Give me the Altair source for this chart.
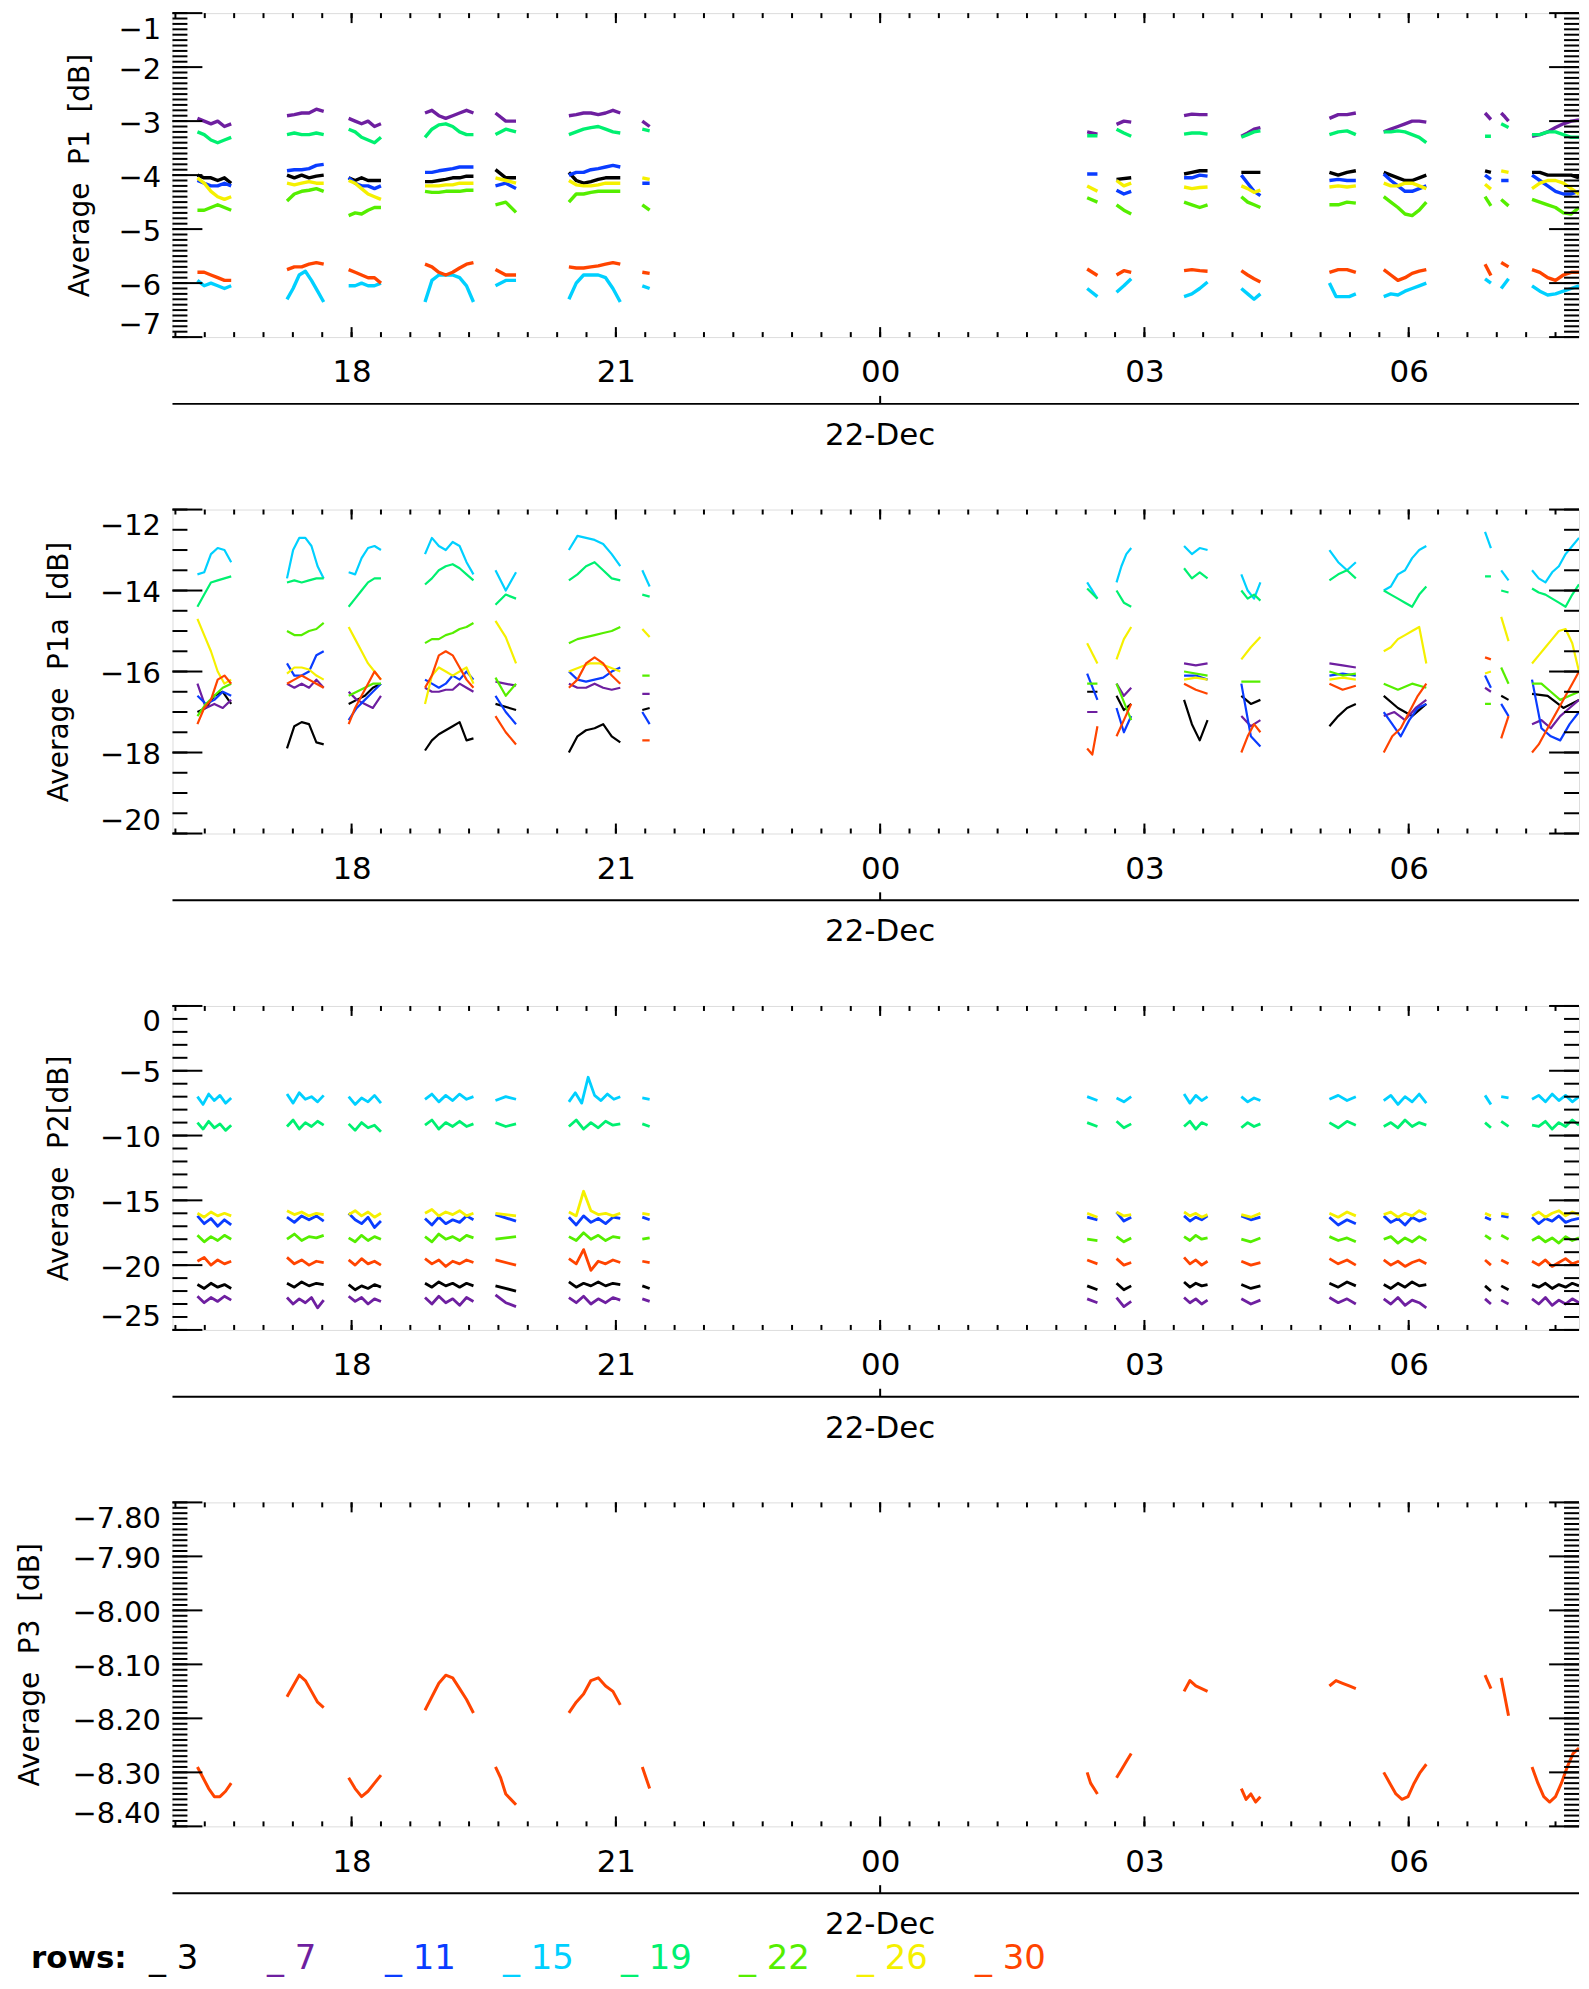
import altair as alt
import pandas as pd
import numpy as np

# ---------------- data ----------------
ROWS = [3, 7, 11, 15, 19, 22, 26, 30]
ROW_COLORS = ["#000000", "#6e1fa0", "#0a3cff", "#00d0ff", "#00f070", "#55ee00", "#f5f000", "#ff4400"]

SEGMENTS = {
    "A": ("2015-12-21 16:15", "2015-12-21 16:38"),
    "B": ("2015-12-21 17:16", "2015-12-21 17:41"),
    "C": ("2015-12-21 17:58", "2015-12-21 18:20"),
    "D": ("2015-12-21 18:50", "2015-12-21 19:23"),
    "E": ("2015-12-21 19:38", "2015-12-21 19:52"),
    "F": ("2015-12-21 20:28", "2015-12-21 21:03"),
    "G": ("2015-12-21 21:18", "2015-12-21 21:23"),
    "H": ("2015-12-22 02:21", "2015-12-22 02:28"),
    "I": ("2015-12-22 02:41", "2015-12-22 02:51"),
    "J": ("2015-12-22 03:27", "2015-12-22 03:43"),
    "K": ("2015-12-22 04:06", "2015-12-22 04:19"),
    "L": ("2015-12-22 05:06", "2015-12-22 05:24"),
    "M": ("2015-12-22 05:43", "2015-12-22 06:12"),
    "N1": ("2015-12-22 06:52", "2015-12-22 06:56"),
    "N2": ("2015-12-22 07:03", "2015-12-22 07:08"),
    "O": ("2015-12-22 07:24", "2015-12-22 07:56"),
}

P1 = {
    7: {"A": [-2.95, -3.0, -3.05, -3.0, -3.1, -3.05], "B": [-2.9, -2.88, -2.85, -2.85, -2.78, -2.82],
        "C": [-2.95, -3.0, -3.05, -3.0, -3.1, -3.05], "D": [-2.85, -2.8, -2.9, -2.95, -2.9, -2.85, -2.8, -2.85],
        "E": [-2.85, -3.0, -3.0], "F": [-2.9, -2.88, -2.85, -2.85, -2.88, -2.85, -2.8, -2.85],
        "G": [-3.0, -3.1], "H": [-3.2, -3.24], "I": [-3.06, -3.0, -3.02], "J": [-2.9, -2.87, -2.88, -2.88],
        "K": [-3.28, -3.22, -3.15, -3.12], "L": [-2.95, -2.88, -2.88, -2.85],
        "M": [-3.2, -3.15, -3.1, -3.05, -3.0, -3.0, -3.02], "N1": [-2.85, -2.97], "N2": [-2.85, -2.92, -3.0],
        "O": [-3.28, -3.25, -3.2, -3.12, -3.05, -3.0, -2.98]},
    19: {"A": [-3.2, -3.25, -3.35, -3.4, -3.35, -3.3], "B": [-3.25, -3.22, -3.25, -3.25, -3.22, -3.25],
         "C": [-3.15, -3.2, -3.3, -3.35, -3.4, -3.3], "D": [-3.3, -3.15, -3.07, -3.05, -3.1, -3.2, -3.25, -3.25],
         "E": [-3.25, -3.15, -3.2], "F": [-3.25, -3.2, -3.15, -3.12, -3.1, -3.15, -3.2, -3.22],
         "G": [-3.15, -3.18], "H": [-3.27, -3.27], "I": [-3.15, -3.22, -3.28], "J": [-3.24, -3.22, -3.22, -3.24],
         "K": [-3.3, -3.25, -3.2, -3.18], "L": [-3.25, -3.2, -3.18, -3.25],
         "M": [-3.2, -3.2, -3.18, -3.2, -3.25, -3.3, -3.4], "N1": [-3.28, -3.28], "N2": [-3.05, -3.12],
         "O": [-3.25, -3.25, -3.2, -3.2, -3.25, -3.3, -3.3]},
    3: {"A": [-4.0, -4.05, -4.05, -4.1, -4.05, -4.15], "B": [-4.0, -4.05, -4.0, -4.05, -4.02, -4.0],
        "C": [-4.05, -4.1, -4.05, -4.1, -4.1, -4.1], "D": [-4.12, -4.12, -4.1, -4.08, -4.05, -4.05, -4.02, -4.02],
        "E": [-3.9, -4.05, -4.05], "F": [-3.95, -4.1, -4.15, -4.12, -4.08, -4.05, -4.05, -4.05],
        "I": [-4.08, -4.05], "J": [-3.98, -3.95, -3.92, -3.92], "K": [-3.95, -3.95],
        "L": [-3.95, -4.0, -3.95, -3.92], "M": [-3.95, -4.0, -4.05, -4.1, -4.1, -4.05, -4.0],
        "N1": [-3.92, -3.95], "O": [-3.95, -3.95, -4.0, -4.0, -4.0, -4.0, -4.05]},
    11: {"A": [-4.1, -4.15, -4.2, -4.2, -4.15, -4.2], "B": [-3.92, -3.9, -3.9, -3.88, -3.82, -3.8],
         "C": [-4.05, -4.15, -4.2, -4.2, -4.25, -4.2], "D": [-3.95, -3.95, -3.92, -3.9, -3.88, -3.85, -3.85, -3.85],
         "E": [-4.2, -4.15, -4.25], "F": [-4.0, -3.95, -3.95, -3.9, -3.88, -3.85, -3.82, -3.85],
         "G": [-4.15, -4.15], "H": [-3.98, -3.98], "I": [-4.28, -4.35, -4.3], "J": [-4.05, -4.05, -4.0, -4.02],
         "K": [-4.0, -4.15, -4.3, -4.38], "L": [-4.1, -4.08, -4.1, -4.1],
         "M": [-3.98, -4.1, -4.2, -4.3, -4.3, -4.25, -4.2], "N1": [-4.0, -4.08], "N2": [-4.1, -4.1],
         "O": [-4.0, -4.1, -4.2, -4.3, -4.35, -4.35, -4.3]},
    26: {"A": [-4.05, -4.15, -4.3, -4.4, -4.45, -4.4], "B": [-4.15, -4.18, -4.15, -4.12, -4.15, -4.15],
         "C": [-4.1, -4.15, -4.25, -4.35, -4.4, -4.45], "D": [-4.2, -4.2, -4.2, -4.18, -4.18, -4.15, -4.15, -4.15],
         "E": [-4.05, -4.1, -4.15], "F": [-4.1, -4.18, -4.2, -4.2, -4.18, -4.15, -4.15, -4.15],
         "G": [-4.05, -4.08], "H": [-4.2, -4.3], "I": [-4.1, -4.2, -4.15], "J": [-4.22, -4.25, -4.23, -4.22],
         "K": [-4.2, -4.25, -4.32, -4.28], "L": [-4.22, -4.2, -4.22, -4.2],
         "M": [-4.15, -4.2, -4.2, -4.15, -4.15, -4.2, -4.25], "N1": [-4.17, -4.26], "N2": [-3.92, -3.95],
         "O": [-4.25, -4.15, -4.1, -4.1, -4.15, -4.25, -4.35]},
    22: {"A": [-4.65, -4.65, -4.6, -4.55, -4.6, -4.65], "B": [-4.48, -4.35, -4.3, -4.28, -4.25, -4.3],
         "C": [-4.75, -4.7, -4.72, -4.65, -4.6, -4.6], "D": [-4.3, -4.32, -4.32, -4.3, -4.3, -4.3, -4.28, -4.28],
         "E": [-4.55, -4.5, -4.69], "F": [-4.5, -4.35, -4.35, -4.32, -4.3, -4.3, -4.3, -4.3],
         "G": [-4.55, -4.65], "H": [-4.42, -4.5], "I": [-4.55, -4.65, -4.72], "J": [-4.5, -4.55, -4.6, -4.55],
         "K": [-4.4, -4.5, -4.55, -4.6], "L": [-4.55, -4.55, -4.5, -4.52],
         "M": [-4.4, -4.5, -4.6, -4.72, -4.75, -4.65, -4.5], "N1": [-4.4, -4.57], "N2": [-4.45, -4.57],
         "O": [-4.45, -4.5, -4.55, -4.6, -4.7, -4.72, -4.6]},
    30: {"A": [-5.8, -5.8, -5.85, -5.9, -5.95, -5.95], "B": [-5.75, -5.7, -5.7, -5.65, -5.62, -5.65],
         "C": [-5.75, -5.8, -5.85, -5.9, -5.9, -6.0], "D": [-5.65, -5.7, -5.8, -5.85, -5.8, -5.72, -5.65, -5.62],
         "E": [-5.75, -5.85, -5.85], "F": [-5.7, -5.72, -5.72, -5.7, -5.68, -5.65, -5.62, -5.65],
         "G": [-5.8, -5.82], "H": [-5.74, -5.86], "I": [-5.85, -5.77, -5.8], "J": [-5.77, -5.75, -5.77, -5.78],
         "K": [-5.77, -5.85, -5.92, -5.98], "L": [-5.8, -5.75, -5.75, -5.8],
         "M": [-5.75, -5.85, -5.95, -5.9, -5.82, -5.78, -5.75], "N1": [-5.65, -5.86], "N2": [-5.62, -5.7],
         "O": [-5.75, -5.8, -5.9, -5.95, -5.85, -5.8, -5.8]},
    15: {"A": [-5.95, -6.05, -6.0, -6.05, -6.1, -6.05], "B": [-6.3, -6.1, -5.85, -5.78, -5.95, -6.15, -6.35],
         "C": [-6.05, -6.05, -6.0, -6.05, -6.05, -6.0], "D": [-6.35, -5.95, -5.85, -5.85, -5.85, -5.9, -6.05, -6.35],
         "E": [-6.05, -5.95, -5.95], "F": [-6.3, -6.0, -5.85, -5.85, -5.85, -5.9, -6.1, -6.35],
         "G": [-6.05, -6.1], "H": [-6.1, -6.25], "I": [-6.17, -6.05, -5.92], "J": [-6.25, -6.2, -6.1, -5.98],
         "K": [-6.1, -6.2, -6.3, -6.2], "L": [-6.0, -6.25, -6.25, -6.25, -6.2],
         "M": [-6.25, -6.2, -6.22, -6.15, -6.1, -6.05, -6.0], "N1": [-5.92, -6.0], "N2": [-6.1, -5.92],
         "O": [-6.05, -6.15, -6.22, -6.2, -6.15, -6.1, -6.05]},
}

P1A = {
    15: {"A": [-13.6, -13.55, -13.1, -12.95, -13.0, -13.3], "B": [-13.7, -13.0, -12.7, -12.7, -12.9, -13.4, -13.7],
         "C": [-13.55, -13.6, -13.2, -12.95, -12.9, -13.0], "D": [-13.1, -12.7, -12.9, -13.0, -12.8, -12.9, -13.3, -13.6],
         "E": [-13.5, -14.0, -13.55], "F": [-13.0, -12.65, -12.7, -12.75, -12.85, -13.1, -13.4],
         "G": [-13.5, -13.9], "H": [-13.8, -14.2], "I": [-13.8, -13.4, -13.1, -12.95], "J": [-12.9, -13.1, -12.95, -13.0],
         "K": [-13.6, -14.0, -14.2, -13.8], "L": [-13.0, -13.3, -13.5, -13.3],
         "M": [-14.0, -13.9, -13.6, -13.5, -13.2, -13.0, -12.9], "N1": [-12.55, -12.95], "N2": [-13.5, -13.75],
         "O": [-13.5, -13.7, -13.8, -13.55, -13.4, -13.1, -12.9, -12.7]},
    19: {"A": [-14.4, -14.1, -13.8, -13.75, -13.7, -13.65], "B": [-13.8, -13.75, -13.8, -13.75, -13.7, -13.7],
         "C": [-14.4, -14.2, -14.0, -13.8, -13.7, -13.7], "D": [-13.85, -13.7, -13.5, -13.4, -13.35, -13.45, -13.6, -13.75],
         "E": [-14.35, -14.1, -14.2], "F": [-13.75, -13.6, -13.4, -13.3, -13.5, -13.7, -13.75],
         "G": [-14.1, -14.15], "H": [-13.95, -14.2], "I": [-14.0, -14.3, -14.4], "J": [-13.45, -13.7, -13.55, -13.7],
         "K": [-14.0, -14.2, -14.1, -14.25], "L": [-13.75, -13.6, -13.5, -13.7],
         "M": [-14.0, -14.1, -14.2, -14.3, -14.4, -14.1, -13.9], "N1": [-13.65, -13.65], "N2": [-14.0, -14.05],
         "O": [-13.95, -14.05, -14.1, -14.2, -14.3, -14.4, -14.1, -13.85]},
    26: {"A": [-14.7, -15.1, -15.5, -16.0, -16.3, -16.2], "B": [-16.05, -15.9, -15.9, -15.95, -16.1, -16.2],
         "C": [-14.9, -15.2, -15.5, -15.8, -16.0, -16.2], "D": [-16.8, -16.1, -15.9, -16.0, -16.1, -16.0, -15.9, -16.3],
         "E": [-14.75, -15.15, -15.8], "F": [-16.0, -15.9, -15.8, -15.8, -15.9, -16.0],
         "G": [-14.95, -15.15], "H": [-15.3, -15.8], "I": [-15.7, -15.2, -14.9], "J": [-16.2, -16.15, -16.2],
         "K": [-15.7, -15.4, -15.15], "L": [-16.2, -16.15, -16.2],
         "M": [-15.5, -15.4, -15.2, -15.1, -15.0, -14.9, -15.8], "N1": [-16.05, -16.0], "N2": [-14.65, -15.25],
         "O": [-15.8, -15.6, -15.4, -15.2, -15.0, -14.95, -15.3, -16.0]},
    22: {"A": [-17.1, -16.8, -16.6, -16.4, -16.3], "B": [-15.0, -15.1, -15.1, -15.0, -14.95, -14.8],
         "C": [-16.6, -16.5, -16.4, -16.3, -16.3], "D": [-15.3, -15.2, -15.2, -15.1, -15.05, -14.95, -14.9, -14.8],
         "E": [-16.15, -16.6, -16.3], "F": [-15.3, -15.2, -15.15, -15.1, -15.05, -15.0, -14.9],
         "G": [-16.1, -16.1], "H": [-16.3, -16.3], "I": [-16.3, -17.2], "J": [-16.0, -16.1],
         "K": [-16.25, -16.25], "L": [-16.0, -16.1, -16.05], "M": [-16.3, -16.45, -16.3, -16.4],
         "N1": [-16.8, -16.8], "N2": [-15.9, -16.3], "O": [-16.3, -16.3, -16.5, -16.7, -16.6, -16.5]},
    11: {"A": [-16.6, -16.8, -16.7, -16.5, -16.6], "B": [-15.8, -16.1, -16.1, -16.0, -15.6, -15.5],
         "C": [-17.2, -16.9, -16.7, -16.5, -16.3], "D": [-16.2, -16.3, -16.4, -16.3, -16.1, -16.2, -16.0, -16.2],
         "E": [-16.6, -17.0, -17.3], "F": [-16.0, -16.2, -16.25, -16.2, -16.15, -16.0, -15.9],
         "G": [-17.0, -17.3], "H": [-16.05, -16.7], "I": [-16.9, -17.5, -17.1], "J": [-16.1, -16.1, -16.2],
         "K": [-16.3, -17.6, -17.85], "L": [-16.1, -16.05, -16.1], "M": [-17.0, -17.3, -17.6, -17.2, -16.9, -16.8],
         "N1": [-16.1, -16.4], "N2": [-16.8, -17.1], "O": [-16.2, -17.4, -17.6, -17.7, -17.3, -17.0]},
    7: {"A": [-16.3, -16.9, -16.8, -16.9, -16.7], "B": [-16.3, -16.4, -16.3, -16.4, -16.2, -16.4],
        "C": [-16.5, -16.7, -16.8, -16.9, -16.6], "D": [-16.4, -16.5, -16.5, -16.45, -16.45, -16.3, -16.4, -16.5],
        "E": [-16.25, -16.35], "F": [-16.3, -16.4, -16.4, -16.3, -16.4, -16.45, -16.4],
        "G": [-16.55, -16.55], "H": [-17.0, -17.0], "I": [-16.3, -16.6, -16.4], "J": [-15.8, -15.85, -15.8],
        "K": [-17.1, -17.35, -17.2], "L": [-15.8, -15.85, -15.9], "M": [-17.1, -17.0, -17.2, -16.9, -16.7],
        "N1": [-16.4, -16.5], "O": [-17.3, -17.2, -17.4, -17.1, -16.9, -16.7]},
    3: {"A": [-17.0, -16.9, -16.6, -16.5, -16.8], "B": [-17.9, -17.35, -17.25, -17.3, -17.75, -17.8],
        "C": [-16.8, -16.7, -16.6, -16.4, -16.3], "D": [-17.95, -17.7, -17.55, -17.45, -17.35, -17.25, -17.7, -17.65],
        "E": [-16.8, -16.95], "F": [-18.0, -17.6, -17.45, -17.4, -17.3, -17.6, -17.75],
        "G": [-16.95, -16.9], "H": [-16.5, -16.5], "I": [-16.6, -16.95, -16.8], "J": [-16.7, -17.3, -17.7, -17.2],
        "K": [-16.6, -16.8, -16.7], "L": [-17.35, -17.1, -16.9, -16.8], "M": [-16.6, -16.9, -17.1, -16.8],
        "N2": [-16.6, -16.7], "O": [-16.55, -16.6, -16.9, -16.7]},
    30: {"A": [-17.3, -16.9, -16.7, -16.2, -16.1, -16.3], "B": [-16.3, -16.2, -16.1, -16.2, -16.3, -16.4],
         "C": [-17.3, -16.9, -16.6, -16.3, -16.0, -16.2], "D": [-16.4, -16.1, -15.6, -15.5, -15.6, -15.9, -16.2, -16.4],
         "E": [-17.1, -17.5, -17.8], "F": [-16.4, -16.2, -15.8, -15.65, -15.8, -16.1, -16.3],
         "G": [-17.7, -17.7], "H": [-17.9, -18.05, -17.35], "I": [-17.6, -17.2, -16.8], "J": [-16.3, -16.45, -16.55],
         "K": [-18.0, -17.6, -17.3, -17.5], "L": [-16.3, -16.45, -16.35],
         "M": [-18.0, -17.6, -17.4, -17.0, -16.6, -16.3], "N1": [-15.65, -15.7], "N2": [-17.65, -17.1],
         "O": [-18.0, -17.8, -17.5, -17.2, -16.9, -16.6, -16.3, -16.0]},
}

P2 = {
    15: {"A": [-7.0, -7.6, -6.8, -7.3, -6.9, -7.5, -7.1], "B": [-6.8, -7.5, -6.7, -7.2, -7.0, -7.4, -6.9],
         "C": [-7.0, -7.6, -7.1, -7.4, -6.9, -7.5], "D": [-7.2, -6.8, -7.4, -6.9, -7.3, -6.8, -7.2, -7.0],
         "E": [-7.3, -7.0, -7.2], "F": [-7.4, -6.7, -7.5, -5.5, -6.9, -7.3, -6.8, -7.2, -7.0],
         "G": [-7.1, -7.2], "H": [-7.0, -7.3], "I": [-7.1, -7.4, -7.0], "J": [-6.8, -7.5, -6.9, -7.3, -7.0],
         "K": [-7.0, -7.4, -7.1, -7.3], "L": [-7.2, -6.9, -7.3, -7.0],
         "M": [-7.3, -6.9, -7.6, -7.0, -7.4, -6.8, -7.5], "N1": [-6.9, -7.6], "N2": [-7.0, -7.1],
         "O": [-7.2, -6.9, -7.4, -6.8, -7.3, -6.9, -7.4, -7.0]},
    19: {"A": [-9.0, -9.5, -8.9, -9.4, -9.1, -9.6, -9.2], "B": [-9.3, -8.8, -9.5, -9.0, -9.3, -8.9, -9.2],
         "C": [-9.1, -9.6, -9.0, -9.4, -9.2, -9.7], "D": [-9.2, -8.8, -9.5, -9.0, -9.3, -8.9, -9.3, -9.1],
         "E": [-9.0, -9.3, -9.1], "F": [-9.3, -8.8, -9.5, -9.0, -9.4, -8.9, -9.2, -9.1],
         "G": [-9.1, -9.3], "H": [-9.0, -9.3], "I": [-8.9, -9.4, -9.1], "J": [-9.3, -8.9, -9.5, -9.0, -9.2],
         "K": [-9.4, -9.0, -9.3, -9.1], "L": [-9.0, -9.4, -8.9, -9.2],
         "M": [-9.3, -9.0, -9.4, -8.8, -9.3, -9.0, -9.2], "N1": [-9.0, -9.4], "N2": [-8.9, -9.3],
         "O": [-9.2, -9.3, -8.9, -9.5, -9.0, -9.3, -8.8, -9.2]},
    26: {"A": [-16.0, -16.3, -15.9, -16.2, -16.0, -16.2], "B": [-15.8, -16.1, -15.9, -16.2, -16.0, -16.1],
         "C": [-16.1, -15.8, -16.2, -15.9, -16.3, -16.0], "D": [-16.0, -15.7, -16.2, -15.9, -16.1, -15.8, -16.2, -16.0],
         "E": [-16.0, -16.2], "F": [-15.9, -16.2, -14.3, -15.8, -16.1, -16.0, -16.2, -16.0],
         "G": [-16.0, -16.1], "H": [-16.0, -16.3], "I": [-15.9, -16.2, -16.1], "J": [-15.9, -16.2, -16.0, -16.3, -16.1],
         "K": [-16.1, -16.3, -16.0], "L": [-16.0, -16.3, -15.9, -16.2],
         "M": [-16.1, -15.9, -16.3, -16.0, -16.2, -15.8, -16.1], "N1": [-16.0, -16.2], "N2": [-16.0, -16.1],
         "O": [-16.2, -15.9, -16.3, -16.0, -15.8, -16.2, -15.9, -16.1]},
    11: {"A": [-16.2, -16.8, -16.4, -17.0, -16.5, -16.9], "B": [-16.3, -16.7, -16.2, -16.5, -16.2, -16.6],
         "C": [-16.0, -16.5, -16.8, -16.3, -17.1, -16.6], "D": [-16.4, -16.9, -16.3, -16.8, -16.5, -16.7, -16.2, -16.5],
         "E": [-16.1, -16.6], "F": [-16.3, -16.9, -16.2, -16.7, -16.4, -16.8, -16.3, -16.4],
         "G": [-16.3, -16.5], "H": [-16.3, -16.5], "I": [-15.9, -16.6, -16.3], "J": [-16.2, -16.6, -16.3, -16.5, -16.2],
         "K": [-16.2, -16.5, -16.3], "L": [-16.3, -16.9, -16.5, -16.8],
         "M": [-16.2, -16.7, -16.4, -16.9, -16.3, -16.6, -16.4], "N1": [-16.3, -16.5], "N2": [-16.2, -16.3],
         "O": [-16.3, -16.8, -16.4, -16.6, -16.2, -16.7, -16.5, -16.4]},
    22: {"A": [-17.7, -18.2, -17.8, -18.1, -17.7, -18.0], "B": [-18.0, -17.6, -18.1, -17.8, -17.9, -17.7],
         "C": [-17.9, -18.2, -17.7, -18.1, -17.8, -18.0], "D": [-17.8, -18.2, -17.6, -18.0, -17.8, -18.1, -17.7, -17.9],
         "E": [-18.0, -17.8], "F": [-17.8, -18.1, -17.5, -18.0, -17.7, -18.1, -17.8, -17.9],
         "G": [-18.0, -17.9], "H": [-18.0, -18.1], "I": [-17.8, -18.2, -17.9], "J": [-17.8, -18.1, -17.7, -18.0, -17.9],
         "K": [-18.0, -18.2, -17.9], "L": [-17.8, -18.1, -17.9, -18.2],
         "M": [-18.0, -17.8, -18.3, -17.9, -18.2, -17.8, -18.1], "N1": [-17.7, -18.0], "N2": [-17.7, -18.0],
         "O": [-18.1, -17.8, -18.2, -17.9, -18.3, -17.8, -18.1, -17.9]},
    30: {"A": [-19.7, -19.4, -20.0, -19.6, -19.9, -19.7], "B": [-19.4, -19.9, -19.6, -20.0, -19.7, -19.8],
         "C": [-19.6, -20.0, -19.5, -19.9, -19.7, -20.0], "D": [-19.5, -19.9, -19.6, -20.1, -19.7, -19.9, -19.6, -19.8],
         "E": [-19.6, -20.0], "F": [-19.5, -19.9, -18.8, -20.4, -19.7, -19.9, -19.6, -19.8],
         "G": [-19.7, -19.8], "H": [-19.6, -19.9], "I": [-19.5, -20.0, -19.8], "J": [-19.4, -19.9, -19.6, -20.0, -19.7],
         "K": [-19.7, -20.0, -19.8], "L": [-19.5, -19.9, -19.6, -20.0],
         "M": [-19.6, -20.0, -19.7, -20.1, -19.8, -19.6, -19.9], "N1": [-19.6, -20.0], "N2": [-19.6, -19.9],
         "O": [-19.7, -20.0, -19.6, -20.1, -19.8, -19.5, -19.9, -19.7]},
    3: {"A": [-21.5, -21.8, -21.4, -21.7, -21.5, -21.8], "B": [-21.4, -21.7, -21.3, -21.6, -21.4, -21.5],
        "C": [-21.5, -21.9, -21.6, -21.8, -21.5, -21.7], "D": [-21.4, -21.7, -21.3, -21.6, -21.4, -21.7, -21.4, -21.6],
        "E": [-21.6, -22.0], "F": [-21.3, -21.7, -21.4, -21.6, -21.3, -21.6, -21.4, -21.5],
        "G": [-21.6, -21.8], "H": [-21.6, -21.9], "I": [-21.4, -21.9, -21.6], "J": [-21.3, -21.7, -21.4, -21.6, -21.5],
        "K": [-21.5, -21.8, -21.6], "L": [-21.4, -21.7, -21.3, -21.6],
        "M": [-21.5, -21.8, -21.4, -21.7, -21.3, -21.6, -21.5], "N1": [-21.6, -22.0], "N2": [-21.6, -21.9],
        "O": [-21.5, -21.7, -21.4, -21.8, -21.5, -21.7, -21.4, -21.6]},
    7: {"A": [-22.4, -22.9, -22.5, -22.8, -22.4, -22.7], "B": [-22.5, -23.0, -22.6, -22.9, -22.5, -23.3, -22.7],
        "C": [-22.4, -22.8, -22.5, -23.0, -22.6, -22.8], "D": [-22.5, -23.0, -22.4, -22.9, -22.6, -23.1, -22.5, -22.8],
        "E": [-22.3, -22.9, -23.2], "F": [-22.5, -22.9, -22.4, -23.0, -22.6, -22.9, -22.5, -22.7],
        "G": [-22.6, -22.8], "H": [-22.6, -22.9], "I": [-22.5, -23.2, -22.8], "J": [-22.5, -22.9, -22.6, -23.0, -22.7],
        "K": [-22.6, -23.0, -22.7], "L": [-22.5, -22.9, -22.6, -23.0],
        "M": [-22.6, -23.0, -22.5, -23.1, -22.7, -22.9, -23.3], "N1": [-22.6, -23.0], "N2": [-22.7, -23.0],
        "O": [-22.6, -23.0, -22.5, -23.1, -22.7, -23.0, -22.6, -22.9]},
}

P3 = {
    30: {"A": [-8.29, -8.31, -8.33, -8.345, -8.345, -8.335, -8.32], "B": [-8.16, -8.14, -8.12, -8.13, -8.15, -8.17, -8.18],
         "C": [-8.31, -8.33, -8.345, -8.335, -8.32, -8.305], "D": [-8.185, -8.16, -8.135, -8.12, -8.125, -8.145, -8.165, -8.19],
         "E": [-8.29, -8.31, -8.34, -8.35, -8.36], "F": [-8.19, -8.17, -8.155, -8.13, -8.125, -8.14, -8.15, -8.175],
         "G": [-8.29, -8.31, -8.33], "H": [-8.30, -8.32, -8.33, -8.34], "I": [-8.31, -8.295, -8.28, -8.265],
         "J": [-8.15, -8.13, -8.14, -8.145, -8.15], "K": [-8.33, -8.35, -8.34, -8.355, -8.345],
         "L": [-8.14, -8.13, -8.135, -8.14, -8.145], "M": [-8.30, -8.32, -8.34, -8.35, -8.345, -8.32, -8.30, -8.285],
         "N1": [-8.12, -8.145], "N2": [-8.125, -8.16, -8.195],
         "O": [-8.29, -8.32, -8.345, -8.355, -8.345, -8.32, -8.29, -8.265, -8.255]},
}

X_LABEL_TIMES = ["2015-12-21T18:00:00", "2015-12-21T21:00:00", "2015-12-22T00:00:00",
                 "2015-12-22T03:00:00", "2015-12-22T06:00:00"]
DAY_MARK = ["2015-12-22T00:00:00"]
DAY_LABEL = ["22-Dec"]

LEGEND_TEXT = ["rows:", "_ 3", "_ 7", "_ 11", "_ 15", "_ 19", "_ 22", "_ 26", "_ 30"]
LEGEND_COLORS = ["#000000"] + ROW_COLORS

NB = "\u00a0\u00a0"
PANELS = [
    {"data": P1, "title": "Average" + NB + "P1" + NB + "[dB]", "domain": [-7, -1],
     "major": [-7, -6, -5, -4, -3, -2, -1], "minor_step": 0.1, "fmt": "d", "titleX": -92, "sw": 3.4, "day_y": 99},
    {"data": P1A, "title": "Average" + NB + "P1a" + NB + "[dB]", "domain": [-20, -12],
     "major": [-20, -18, -16, -14, -12], "minor_step": 0.5, "fmt": "d", "titleX": -113, "sw": 2.2, "day_y": 99},
    {"data": P2, "title": "Average" + NB + "P2[dB]", "domain": [-25, 0],
     "major": [-25, -20, -15, -10, -5, 0], "minor_step": 1.0, "fmt": "d", "titleX": -113, "sw": 2.8, "day_y": 99},
    {"data": P3, "title": "Average" + NB + "P3" + NB + "[dB]", "domain": [-8.4, -7.8],
     "major": [-8.4, -8.3, -8.2, -8.1, -8.0, -7.9, -7.8], "minor_step": 0.01, "fmt": ".2f", "titleX": -142,
     "sw": 3.0, "day_y": 99},
]

# ---------------- layout / style ----------------
W, H = 1411, 325
FONT = "DejaVu Sans"
T_START = alt.DateTime(year=2015, month=12, date=21, hours=15, minutes=58)
T_END = alt.DateTime(year=2015, month=12, date=22, hours=7, minutes=56)
XSCALE = alt.Scale(domain=[T_START, T_END])


def to_dt(s):
    ts = pd.Timestamp(s)
    return alt.DateTime(year=ts.year, month=ts.month, date=ts.day, hours=ts.hour, minutes=ts.minute)


def build_frame(panel):
    recs = []
    for row in ROWS:
        segs = panel.get(row, {})
        for s, vals in segs.items():
            t0, t1 = pd.Timestamp(SEGMENTS[s][0]), pd.Timestamp(SEGMENTS[s][1])
            n = len(vals)
            for i, v in enumerate(vals):
                frac = i / (n - 1) if n > 1 else 0.0
                t = (t0 + (t1 - t0) * frac).round("s")
                recs.append({"row": str(row), "seg": s, "t": t.strftime("%Y-%m-%dT%H:%M:%S"), "v": v})
    return pd.DataFrame(recs)


x_major = pd.DataFrame({"t": X_LABEL_TIMES})
x_minor = pd.DataFrame({"t": pd.date_range("2015-12-21 16:00", "2015-12-22 07:40", freq="20min")
                        .strftime("%Y-%m-%dT%H:%M:%S")})
day_df = pd.DataFrame({"t": DAY_MARK, "label": DAY_LABEL})


def make_panel(cfg):
    df = build_frame(cfg["data"])
    yscale = alt.Scale(domain=cfg["domain"], nice=False, zero=False)
    lo, hi = cfg["domain"]
    step = cfg["minor_step"]
    n = int(round((hi - lo) / step))
    ymin_df = pd.DataFrame({"v": [round(lo + i * step, 4) for i in range(n + 1)]})
    ymaj_df = pd.DataFrame({"v": cfg["major"]})

    xaxis = alt.Axis(values=[to_dt(s) for s in X_LABEL_TIMES], format="%H", formatType="time",
                     ticks=False, tickSize=0, domain=False, grid=False, labelFontSize=31,
                     labelPadding=21, title=None, labelFont=FONT, labelColor="black")
    yaxis = alt.Axis(values=cfg["major"], format=cfg["fmt"], ticks=False, tickSize=0, domain=False,
                     grid=False, labelFontSize=29, labelFont=FONT, labelColor="black", labelPadding=12,
                     labelOffset=2, labelFlush=True, labelOverlap=False,
                     title=cfg["title"], titleFontSize=28, titleFont=FONT,
                     titleFontWeight="normal", titleColor="black", titleX=cfg["titleX"], titleY=H / 2,
                     titleBaseline="middle", titleAlign="center", titleAngle=270)

    # data layer first so that its axes win the layer merge
    lines = alt.Chart(df).mark_line(strokeWidth=cfg["sw"], clip=True, strokeJoin="round").encode(
        x=alt.X("t:T", scale=XSCALE, axis=xaxis),
        y=alt.Y("v:Q", scale=yscale, axis=yaxis),
        color=alt.Color("row:N", scale=alt.Scale(domain=[str(r) for r in ROWS], range=ROW_COLORS), legend=None),
        detail="seg:N",
    )

    def yticks(frame, x0, x1):
        return alt.Chart(frame).mark_rule(color="black", strokeWidth=2).encode(
            y=alt.Y("v:Q", scale=yscale, axis=yaxis), x=alt.value(x0), x2=alt.value(x1))

    def xticks(frame, y0, y1):
        return alt.Chart(frame).mark_rule(color="black", strokeWidth=2).encode(
            x=alt.X("t:T", scale=XSCALE, axis=xaxis), y=alt.value(y0), y2=alt.value(y1))

    layers = [
        lines,
        yticks(ymin_df, 0, 15), yticks(ymaj_df, 0, 30),
        yticks(ymin_df, W, W - 15), yticks(ymaj_df, W, W - 30),
        xticks(x_minor, H, H - 5), xticks(x_major, H, H - 10),
        xticks(x_minor, 0, 5), xticks(x_major, 0, 10),
        alt.Chart(day_df).mark_rule(color="black", strokeWidth=2).encode(
            x=alt.value(0), x2=alt.value(W), y=alt.value(H + 67)),
        xticks(day_df, H + 59, H + 67),
        alt.Chart(day_df).mark_text(font=FONT, fontSize=31, baseline="middle", align="center",
                                    color="black").encode(
            x=alt.X("t:T", scale=XSCALE, axis=xaxis), y=alt.value(H + cfg["day_y"]), text="label:N"),
    ]
    return alt.layer(*layers).properties(width=W, height=H)


panels = [make_panel(c) for c in PANELS]

legend_df = pd.DataFrame({"item": LEGEND_TEXT, "color": LEGEND_COLORS})
leg_x = alt.X("item:N", sort=LEGEND_TEXT,
              scale=alt.Scale(type="point", domain=LEGEND_TEXT, range=[-142, 805], padding=0), axis=None)
legend_rows = alt.Chart(legend_df).transform_filter(alt.datum.item == "rows:").mark_text(
    font=FONT, fontSize=31, fontWeight="bold", align="left", baseline="middle", color="black").encode(
    x=leg_x, y=alt.value(H + 133), text="item:N")
legend_items = alt.Chart(legend_df).transform_filter(alt.datum.item != "rows:").mark_text(
    font=FONT, fontSize=34, align="left", baseline="middle").encode(
    x=leg_x, y=alt.value(H + 133), text="item:N", color=alt.Color("color:N", scale=None, legend=None))
legend = alt.layer(legend_rows, legend_items)

last = alt.layer(panels[3], legend).resolve_scale(x="independent", color="independent")

chart = alt.vconcat(panels[0], panels[1], panels[2], last, spacing=173, bounds="flush",
                    padding={"left": 8, "top": 0, "right": 0, "bottom": 0}).configure_view(
    stroke="black", strokeWidth=2).configure(background="white")

chart.save("out.html", embed_options={"renderer": "svg", "actions": False})
